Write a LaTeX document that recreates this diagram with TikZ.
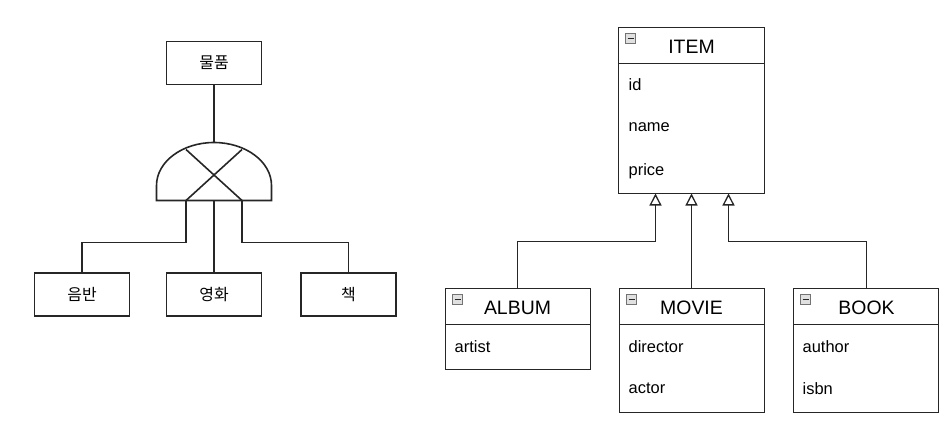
\documentclass[tikz,border=0pt]{standalone}
\usepackage{fontspec}
\setmainfont{Liberation Sans}
\newfontfamily\krfont{Noto Sans CJK KR}
\usetikzlibrary{arrows.meta}
\tikzset{
  ln/.style={line width=1.6bp, draw=black!85},
  kbox/.style={ln, minimum width=95bp, minimum height=43bp, inner sep=0pt, font=\krfont\fontsize{16}{18}\selectfont},
  ttl/.style={font=\fontsize{19.5}{22}\selectfont, inner sep=0pt},
  fld/.style={font=\fontsize{16.5}{19}\selectfont, anchor=west, inner sep=0pt},
  inh/.style={ln, -{Triangle[open, width=12bp, length=12bp, fill=white, line width=1.3bp]}},
}
\newcommand{\umlicon}[2]{%
  \fill[black!12, draw=black!55, line width=0.9bp] (#1,#2) rectangle ++(10,10);
  \draw[black!85, line width=1.6bp] (#1+2,#2+5) -- ++(6,0);
}
\begin{document}
\begin{tikzpicture}[x=1bp,y=-1bp]
\useasboundingbox (0,0) rectangle (947,420);
\begin{scope}[shift={(0.5,0.5)}]
% left: Korean diagram
\node[kbox] (goods) at (213.5,62.5) {물품};
\node[kbox] (album) at (81.5,294) {음반};
\node[kbox] (movie) at (213.5,294) {영화};
\node[kbox] (book) at (348,294) {책};
% gate
\coordinate (gtop) at (213.5,142);
\coordinate (gl) at (185.5,200);
\coordinate (gm) at (213.5,200);
\coordinate (gr) at (241.5,200);
\draw[ln] (156,200) -- (156,185) arc[start angle=180, end angle=360, x radius=57.5, y radius=43] -- (271,200) -- cycle;
\draw[ln] (gl) -- (241.5,149) (185.5,149) -- (gr);
\draw[ln] (goods.south) -- (gtop);
\draw[ln] (gl) |- (81.5,242) -- (album.north);
\draw[ln] (gm) -- (movie.north);
\draw[ln] (gr) |- (348,242) -- (book.north);
% right: UML
% ITEM
\draw[ln] (618,27) rectangle (764,193);
\draw[ln] (618,63) -- (764,63);
\umlicon{625}{33}
\node[ttl] (item) at (691,46) {ITEM};
\node[fld] (f1) at (628,84) {id};
\node[fld] (f2) at (628,127) {name};
\node[fld] (f3) at (628,171) {price};
\coordinate (itemA) at (655,193);
\coordinate (itemM) at (691,193);
\coordinate (itemB) at (728,193);
% ALBUM
\draw[ln] (445,288) rectangle (590,369);
\draw[ln] (445,324) -- (590,324);
\umlicon{452}{294}
\node[ttl] (alb) at (517,307) {ALBUM};
\node[fld] (a1) at (454,346) {artist};
\coordinate (albT) at (517,288);
% MOVIE
\draw[ln] (619,288) rectangle (764,412);
\draw[ln] (619,324) -- (764,324);
\umlicon{626}{294}
\node[ttl] (mov) at (691,307) {MOVIE};
\node[fld] (m1) at (628,346) {director};
\node[fld] (m2) at (628,388) {actor};
\coordinate (movT) at (691,288);
% BOOK
\draw[ln] (793,288) rectangle (938,412);
\draw[ln] (793,324) -- (938,324);
\umlicon{800}{294}
\node[ttl] (bk) at (866,307) {BOOK};
\node[fld] (b1) at (802,346) {author};
\node[fld] (b2) at (802,388) {isbn};
\coordinate (bkT) at (866,288);
% inheritance
\draw[inh] (albT) |- (655,241) -- (itemA);
\draw[inh] (movT) -- (itemM);
\draw[inh] (bkT) |- (728,241) -- (itemB);
\end{scope}
\end{tikzpicture}
\end{document}
